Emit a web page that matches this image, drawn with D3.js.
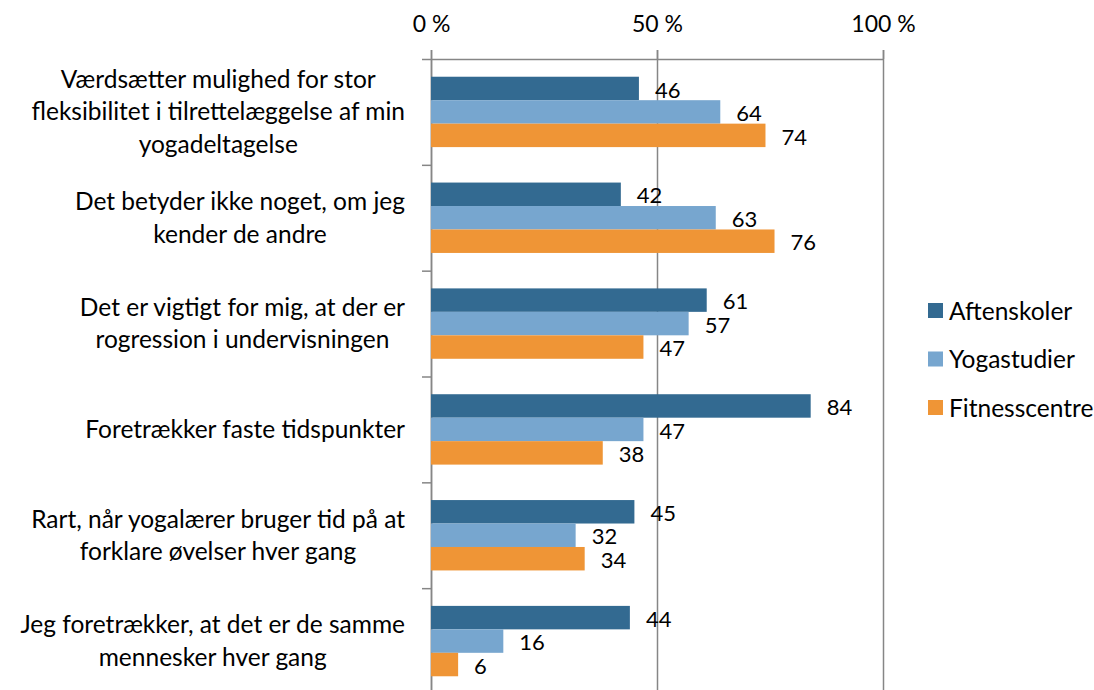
<!DOCTYPE html>
<html>
<head>
<meta charset="utf-8">
<script src="https://cdn.jsdelivr.net/npm/d3@7"></script>
<style>
  body { margin: 0; background: #fff; }
  svg text { font-family: Lato, "Noto Sans", sans-serif; fill: #000; }
</style>
</head>
<body>
<svg class="bar-chart" width="1094" height="690"></svg>
<script>
// category labels, already wrapped the way the original shows them
const categories = [
  ['Værdsætter mulighed for stor', 'fleksibilitet i tilrettelæggelse af min', 'yogadeltagelse'],
  ['Det betyder ikke noget, om jeg', 'kender de andre'],
  ['Det er vigtigt for mig, at der er', 'rogression i undervisningen'],
  ['Foretrækker faste tidspunkter'],
  ['Rart, når yogalærer bruger tid på at', 'forklare øvelser hver gang'],
  ['Jeg foretrækker, at det er de samme', 'mennesker hver gang']
];
const seriesNames = ['Aftenskoler', 'Yogastudier', 'Fitnesscentre'];
const aftenskoler = [46, 42, 61, 84, 45, 44];
const yogastudier = [64, 63, 57, 47, 32, 16];
const fitnesscentre = [74, 76, 47, 38, 34, 6];
const xTicks = [0, 50, 100];

const colors = ['#336a91', '#77a6cf', '#ef9536'];
const values = [aftenskoler, yogastudier, fitnesscentre];

const svg = d3.select('svg.bar-chart');
const plotLeft = 431, plotRight = 883, plotTop = 59, plotBottom = 694;

const x = d3.scaleLinear().domain([0, 100]).range([plotLeft, plotRight]);
const y = d3.scaleBand().domain(d3.range(categories.length))
  .range([plotTop, plotBottom]).paddingInner(0.335).paddingOuter(0.1675);
const ySub = d3.scaleBand().domain(d3.range(seriesNames.length)).range([0, y.bandwidth()]);
const yEdge = d3.scaleLinear().domain([0, categories.length]).range([plotTop, plotBottom]);

const axisColor = '#868686';

// gridlines (they also act as the top ticks)
const grid = svg.append('g')
  .attr('transform', 'translate(0,' + plotTop + ')')
  .call(d3.axisTop(x).tickValues(xTicks).tickSize(-(plotBottom - plotTop)).tickFormat(''));
grid.select('.domain').remove();
grid.selectAll('.tick line').attr('stroke', axisColor).attr('stroke-width', 1.5).attr('y1', -9);

// top axis with labels
const xAxis = svg.append('g')
  .attr('transform', 'translate(0,' + plotTop + ')')
  .call(d3.axisTop(x).tickValues(xTicks).tickSize(9).tickSizeOuter(0).tickFormat(d => d + ' %'));
xAxis.select('.domain').attr('stroke', axisColor).attr('stroke-width', 1.5);
xAxis.selectAll('.tick line').attr('stroke', axisColor).attr('stroke-width', 1.5);
xAxis.selectAll('.tick text')
  .attr('font-size', 23).attr('font-family', 'Lato').attr('fill', '#000')
  .attr('y', -27).attr('dy', null);

// left axis: ticks between categories
const yAxis = svg.append('g')
  .attr('transform', 'translate(' + plotLeft + ',0)')
  .call(d3.axisLeft(yEdge).tickValues(d3.range(categories.length + 1)).tickSize(9).tickSizeOuter(0).tickFormat(''));
yAxis.select('.domain').attr('stroke', axisColor).attr('stroke-width', 1.5);
yAxis.selectAll('.tick line').attr('stroke', axisColor).attr('stroke-width', 1.5);

// bars
const groups = svg.selectAll('g.cat')
  .data(categories)
  .join('g')
  .attr('class', 'cat')
  .attr('transform', (d, i) => 'translate(0,' + y(i) + ')');

groups.each(function (d, i) {
  const g = d3.select(this);
  values.forEach((vals, s) => {
    g.append('rect')
      .attr('x', x(0))
      .attr('y', ySub(s))
      .attr('width', x(vals[i]) - x(0))
      .attr('height', ySub.bandwidth())
      .attr('fill', colors[s]);
    g.append('text')
      .attr('x', x(vals[i]) + 16)
      .attr('y', ySub(s) + ySub.bandwidth() / 2 + 1.5)
      .attr('dy', '0.35em')
      .attr('font-size', 22)
      .text(vals[i]);
  });
});

// category labels: block right aligned at the axis, lines centred in the block
const lineH = 32.5;
categories.forEach((lines, i) => {
  const cy = y(i) + y.bandwidth() / 2;
  const t = svg.append('text').attr('font-size', 24.5).attr('text-anchor', 'middle');
  const spans = lines.map((line, k) =>
    t.append('tspan')
      .attr('y', cy + (k - (lines.length - 1) / 2) * lineH)
      .attr('dy', '0.35em')
      .text(line));
  const w = d3.max(spans, s => s.node().getComputedTextLength());
  spans.forEach(s => s.attr('x', 405 - w / 2));
});

// legend
const legend = svg.append('g').attr('transform', 'translate(928,303)');
seriesNames.forEach((name, s) => {
  const row = legend.append('g').attr('transform', 'translate(0,' + s * 48.5 + ')');
  row.append('rect').attr('width', 15).attr('height', 15).attr('fill', colors[s]);
  row.append('text').attr('x', 21).attr('y', 8).attr('dy', '0.35em')
    .attr('font-size', 24.5).text(name);
});
</script>
</body>
</html>
